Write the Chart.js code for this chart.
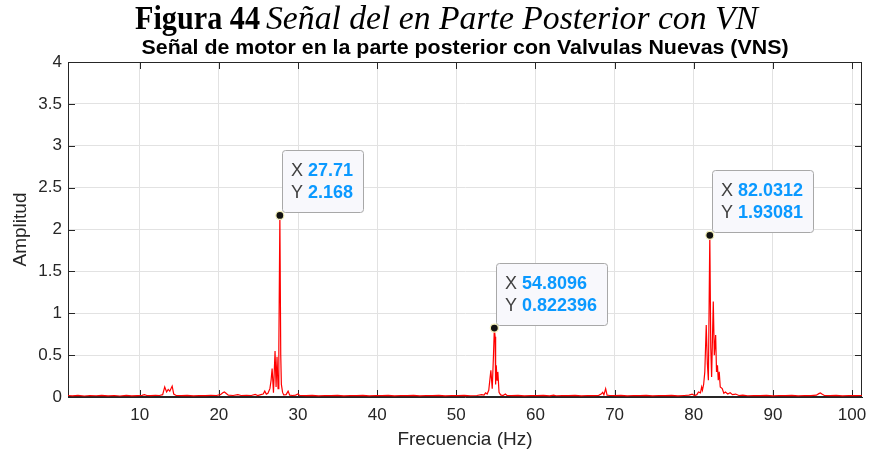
<!DOCTYPE html>
<html>
<head>
<meta charset="utf-8">
<script src="https://cdn.jsdelivr.net/npm/chart.js@4.4.1/dist/chart.umd.min.js"></script>
<style>
  html, body { margin: 0; padding: 0; background: #ffffff; }
  #wrap { width: 870px; height: 452px; position: relative; }
</style>
</head>
<body>
<div id="wrap"><canvas id="spectrum" width="870" height="452"></canvas></div>
<script>
// Frequency axis (Hz) of the spectrum samples
const freqs = [
  0.94, 1.5, 2.2, 3.0, 3.7, 4.5, 5.2, 6.0, 6.8, 7.5, 8.3, 9.0, 9.7,
  10.3, 10.6, 10.9, 11.4, 12.0, 12.5, 12.9, 13.16, 13.4, 13.6, 13.8, 14.1, 14.3, 14.6,
  15.3, 16.0, 16.8, 17.5, 18.3, 19.0, 19.7, 20.2, 20.5, 20.7, 20.9, 21.2, 21.8,
  22.4, 22.8, 23.5, 24.1, 24.6, 24.9, 25.3, 25.6, 25.8, 26.0, 26.2, 26.45, 26.6,
  26.73, 26.9, 27.1, 27.23, 27.35, 27.48, 27.58, 27.71, 27.82, 27.9, 28.05, 28.2,
  28.5, 28.75, 28.95, 29.3, 29.7, 30.0, 30.2, 31.0, 31.8, 32.6, 33.4, 34.2, 35.0,
  35.8, 36.6, 37.4, 38.2, 39.0, 39.8, 40.6, 41.4, 42.2, 43.0, 43.8, 44.6, 45.4,
  46.2, 47.0, 47.8, 48.6, 49.4, 50.2, 51.0, 51.8, 52.6, 53.2, 53.5, 53.7, 53.9,
  54.1, 54.37, 54.54, 54.7, 54.8096, 54.9, 54.97, 55.05, 55.15, 55.25, 55.4, 55.6,
  55.9, 56.2, 56.4, 57.0, 57.8, 58.6, 59.4, 60.2, 61.0, 61.8, 62.3, 62.6, 63.4,
  64.2, 65.0, 65.8, 66.6, 67.4, 68.0, 68.3, 68.5, 68.65, 68.87, 69.05, 69.4, 70.0,
  70.8, 71.6, 72.4, 73.2, 74.0, 74.8, 75.6, 76.4, 77.2, 78.0, 78.8, 79.4, 79.8,
  80.1, 80.4, 80.6, 80.85, 81.0, 81.1, 81.25, 81.4, 81.58, 81.72, 81.85, 82.0312,
  82.15, 82.26, 82.47, 82.6, 82.77, 82.88, 83.0, 83.1, 83.22, 83.35, 83.6, 83.8,
  84.0, 84.3, 84.6, 84.9, 85.3, 85.7, 86.2, 86.8, 87.6, 88.4, 89.2, 90.0, 90.8,
  91.6, 92.4, 93.2, 94.0, 94.8, 95.5, 95.8, 96.0, 96.2, 96.5, 97.2, 98.0, 98.8,
  99.6, 100.4, 101.26
];

// Spectrum amplitude at each frequency
const amps = [
  0.018, 0.013, 0.020, 0.012, 0.018, 0.015, 0.020, 0.014, 0.018, 0.012, 0.019, 0.014, 0.017,
  0.020, 0.028, 0.018, 0.016, 0.020, 0.018, 0.028, 0.120, 0.060, 0.090, 0.070, 0.130, 0.035, 0.018,
  0.016, 0.020, 0.014, 0.018, 0.016, 0.020, 0.018, 0.028, 0.050, 0.060, 0.045, 0.022, 0.018,
  0.028, 0.018, 0.020, 0.018, 0.032, 0.018, 0.028, 0.035, 0.070, 0.035, 0.045, 0.100, 0.200,
  0.340, 0.050, 0.550, 0.120, 0.480, 0.100, 0.600, 2.168, 0.500, 0.150, 0.055, 0.025,
  0.028, 0.070, 0.022, 0.018, 0.022, 0.035, 0.018, 0.016, 0.020, 0.014, 0.018, 0.016, 0.019,
  0.014, 0.018, 0.016, 0.020, 0.014, 0.018, 0.016, 0.019, 0.014, 0.018, 0.016, 0.020, 0.014,
  0.018, 0.016, 0.019, 0.014, 0.018, 0.016, 0.020, 0.015, 0.018, 0.028, 0.022, 0.050, 0.035,
  0.080, 0.320, 0.100, 0.500, 0.822396, 0.720, 0.150, 0.380, 0.200, 0.300, 0.055, 0.025,
  0.018, 0.035, 0.018, 0.016, 0.019, 0.014, 0.018, 0.016, 0.020, 0.014, 0.022, 0.015, 0.018,
  0.016, 0.019, 0.014, 0.018, 0.016, 0.020, 0.035, 0.055, 0.025, 0.100, 0.022, 0.018, 0.016,
  0.019, 0.014, 0.018, 0.016, 0.020, 0.014, 0.018, 0.016, 0.019, 0.014, 0.018, 0.022, 0.035,
  0.018, 0.028, 0.060, 0.050, 0.120, 0.080, 0.150, 0.300, 0.860, 0.400, 0.200, 1.93081,
  0.600, 0.240, 1.140, 0.500, 0.740, 0.300, 0.380, 0.200, 0.300, 0.120, 0.100, 0.045,
  0.060, 0.035, 0.050, 0.028, 0.035, 0.018, 0.022, 0.015, 0.018, 0.016, 0.019, 0.014, 0.018,
  0.016, 0.020, 0.014, 0.018, 0.016, 0.022, 0.040, 0.048, 0.035, 0.018, 0.016, 0.019, 0.014,
  0.018, 0.016, 0.018
];

// Axis ticks
const xTicks = [10, 20, 30, 40, 50, 60, 70, 80, 90, 100];
const yTicks = [0, 0.5, 1, 1.5, 2, 2.5, 3, 3.5, 4];
const xRange = [0.94, 101.26];
const yRange = [0, 4];

// Frequencies of the annotated peaks
const tipFreqs = [27.71, 54.8096, 82.0312];

const captionBold = 'Figura 44';
const captionItalic = 'Señal del en Parte Posterior con VN';
const chartTitle = 'Señal de motor en la parte posterior con Valvulas Nuevas (VNS)';

const points = freqs.map((f, i) => ({ x: f, y: amps[i] }));

const AXIS = '#262626';
const SANS = '"Liberation Sans", Arial, Helvetica, sans-serif';
const SERIF = '"Liberation Serif", "Times New Roman", serif';

// Draws text squeezed/stretched horizontally to a given width
function fitText(ctx, text, x, y, width) {
  const w = ctx.measureText(text).width;
  ctx.save();
  ctx.translate(x, y);
  ctx.scale(width / w, 1);
  ctx.fillText(text, 0, 0);
  ctx.restore();
}

// Figure caption and chart heading
const headingPlugin = {
  id: 'heading',
  afterDraw(chart) {
    const ctx = chart.ctx;
    ctx.save();
    ctx.fillStyle = '#000000';
    ctx.textBaseline = 'alphabetic';
    ctx.textAlign = 'left';
    ctx.font = 'bold 33px ' + SERIF;
    fitText(ctx, captionBold, 135, 29, 125);
    ctx.font = 'italic 33px ' + SERIF;
    fitText(ctx, captionItalic, 266, 29, 492);
    ctx.font = 'bold 20px ' + SANS;
    const cx = (chart.chartArea.left + chart.chartArea.right) / 2;
    fitText(ctx, chartTitle, cx - 323.5, 54, 647);
    ctx.restore();
  }
};

// Box outline and inward tick marks on all four sides
const boxPlugin = {
  id: 'axesBox',
  beforeDatasetsDraw(chart) {
    const { ctx, chartArea: a, scales: { x, y } } = chart;
    const len = 7;
    ctx.save();
    ctx.strokeStyle = AXIS;
    ctx.lineWidth = 1;
    ctx.beginPath();
    xTicks.forEach(v => {
      const px = Math.round(x.getPixelForValue(v)) + 0.5;
      ctx.moveTo(px, a.bottom); ctx.lineTo(px, a.bottom - len);
      ctx.moveTo(px, a.top); ctx.lineTo(px, a.top + len);
    });
    yTicks.forEach(v => {
      const py = Math.round(y.getPixelForValue(v)) + 0.5;
      ctx.moveTo(a.left, py); ctx.lineTo(a.left + len, py);
      ctx.moveTo(a.right, py); ctx.lineTo(a.right - len, py);
    });
    ctx.stroke();
    ctx.strokeRect(Math.round(a.left) + 0.5, Math.round(a.top) + 0.5,
                   Math.round(a.right - a.left) - 1, Math.round(a.bottom - a.top) - 1);
    ctx.restore();
  }
};

// Data tips: marker on the peak plus an X/Y readout box
const tipPlugin = {
  id: 'dataTips',
  afterDatasetsDraw(chart) {
    const { ctx, scales: { x, y } } = chart;
    const data = chart.data.datasets[0].data;
    ctx.save();
    tipFreqs.forEach(f => {
      const pt = data.find(p => p.x === f);
      const px = x.getPixelForValue(pt.x);
      const py = y.getPixelForValue(pt.y);
      const lines = [['X ', String(pt.x)], ['Y ', String(pt.y)]];
      const normal = '18px ' + SANS;
      const bold = 'bold 18px ' + SANS;
      let maxW = 0;
      lines.forEach(([k, v]) => {
        ctx.font = normal; const w1 = ctx.measureText(k).width;
        ctx.font = bold; const w2 = ctx.measureText(v).width;
        maxW = Math.max(maxW, w1 + w2);
      });
      const bw = Math.round(maxW + 19);
      const bh = 62;
      const bx = Math.round(px + 2) + 0.5;
      const by = Math.round(py - 3 - bh) + 0.5;
      ctx.beginPath();
      ctx.roundRect(bx, by, bw, bh, 3);
      ctx.fillStyle = '#f8f8fc';
      ctx.fill();
      ctx.strokeStyle = '#a8a8a8';
      ctx.lineWidth = 1;
      ctx.stroke();
      ctx.textBaseline = 'middle';
      ctx.textAlign = 'left';
      lines.forEach(([k, v], i) => {
        const ty = by + 20.5 + i * 21.8;
        ctx.font = normal;
        ctx.fillStyle = '#404040';
        ctx.fillText(k, bx + 8.5, ty);
        const kw = ctx.measureText(k).width;
        ctx.font = bold;
        ctx.fillStyle = '#0a99ff';
        ctx.fillText(v, bx + 8.5 + kw, ty);
      });
      ctx.beginPath();
      ctx.arc(px, py, 4, 0, Math.PI * 2);
      ctx.fillStyle = '#111111';
      ctx.fill();
      ctx.strokeStyle = '#f3f0b8';
      ctx.lineWidth = 1.2;
      ctx.stroke();
    });
    ctx.restore();
  }
};

new Chart(document.getElementById('spectrum'), {
  type: 'line',
  data: {
    datasets: [{
      data: points,
      borderColor: '#ff0000',
      borderWidth: 1.2,
      pointRadius: 0,
      tension: 0,
      fill: false
    }]
  },
  options: {
    responsive: false,
    animation: false,
    devicePixelRatio: 1,
    layout: { padding: { top: 62, left: 0, right: 8, bottom: 0 } },
    plugins: {
      legend: { display: false },
      tooltip: { enabled: false },
      title: { display: false }
    },
    scales: {
      x: {
        type: 'linear',
        min: xRange[0],
        max: xRange[1],
        afterBuildTicks: s => { s.ticks = xTicks.map(v => ({ value: v })); },
        afterFit: s => { s.height = 55; s.paddingLeft = 0; s.paddingRight = 0; },
        grid: { color: '#e2e2e2', drawTicks: false, lineWidth: 1 },
        border: { display: true, color: AXIS, width: 1 },
        ticks: { color: AXIS, font: { family: SANS, size: 17 }, padding: 8, maxRotation: 0,
                 callback: v => String(v) },
        title: { display: true, text: 'Frecuencia (Hz)', color: AXIS,
                 font: { family: SANS, size: 19 }, padding: { top: 0, bottom: 1 } }
      },
      y: {
        type: 'linear',
        min: yRange[0],
        max: yRange[1],
        afterBuildTicks: s => { s.ticks = yTicks.map(v => ({ value: v })); },
        afterFit: s => { s.width = 68; },
        grid: { color: '#e2e2e2', drawTicks: false, lineWidth: 1 },
        border: { display: true, color: AXIS, width: 1 },
        ticks: { color: AXIS, font: { family: SANS, size: 17 }, padding: 6,
                 callback: v => String(v) },
        title: { display: true, text: 'Amplitud', color: AXIS,
                 font: { family: SANS, size: 19 }, padding: { top: 9, bottom: 0 } }
      }
    }
  },
  plugins: [boxPlugin, tipPlugin, headingPlugin]
});
</script>
</body>
</html>
